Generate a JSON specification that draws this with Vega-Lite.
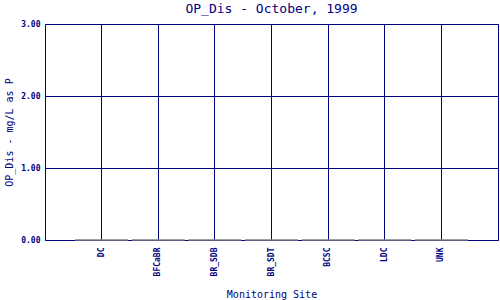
{
  "$schema": "https://vega.github.io/schema/vega-lite/v6.json",
  "width": 453,
  "height": 216,
  "autosize": {"type": "none"},
  "padding": {"left": 45, "top": 24, "right": 2, "bottom": 60},
  "background": "white",
  "title": {
    "text": "OP_Dis - October, 1999",
    "font": "DejaVu Sans Mono",
    "fontSize": 13,
    "fontWeight": "normal",
    "color": "#000080",
    "offset": 4
  },
  "config": {
    "view": {"stroke": "#000080", "strokeWidth": 1},
    "axis": {
      "labelFont": "DejaVu Sans Mono",
      "titleFont": "DejaVu Sans Mono",
      "labelColor": "#000080",
      "titleColor": "#000080",
      "gridColor": "#000080",
      "gridOpacity": 1,
      "gridWidth": 1,
      "domain": false,
      "ticks": false,
      "titleFontWeight": "normal"
    }
  },
  "data": {
    "values": [
      {"site": "DC", "value": 0},
      {"site": "BFCaBR", "value": 0},
      {"site": "BR_SDB", "value": 0},
      {"site": "BR_SDT", "value": 0},
      {"site": "BCSC", "value": 0},
      {"site": "LDC", "value": 0},
      {"site": "UNK", "value": 0}
    ]
  },
  "mark": {"type": "bar", "fill": null, "fillOpacity": 0, "stroke": "#808080", "strokeWidth": 1},
  "encoding": {
    "x": {
      "field": "site",
      "type": "nominal",
      "sort": null,
      "scale": {"paddingInner": 0.064, "paddingOuter": 0.532},
      "axis": {
        "title": "Monitoring Site",
        "titleFontSize": 10,
        "titlePadding": 14,
        "labelFontSize": 8,
        "labelFontWeight": "bold",
        "labelAngle": 270,
        "labelAlign": "right",
        "labelBaseline": "middle",
        "labelPadding": 7,
        "grid": true,
        "bandPosition": 0.5
      }
    },
    "y": {
      "field": "value",
      "type": "quantitative",
      "scale": {"domain": [0, 3], "nice": false},
      "axis": {
        "title": "OP_Dis - mg/L as P",
        "titleFontSize": 10,
        "titlePadding": 6,
        "labelFontSize": 8,
        "labelFontWeight": "bold",
        "labelPadding": 5,
        "format": ".2f",
        "values": [0, 1, 2, 3],
        "grid": true
      }
    }
  }
}
